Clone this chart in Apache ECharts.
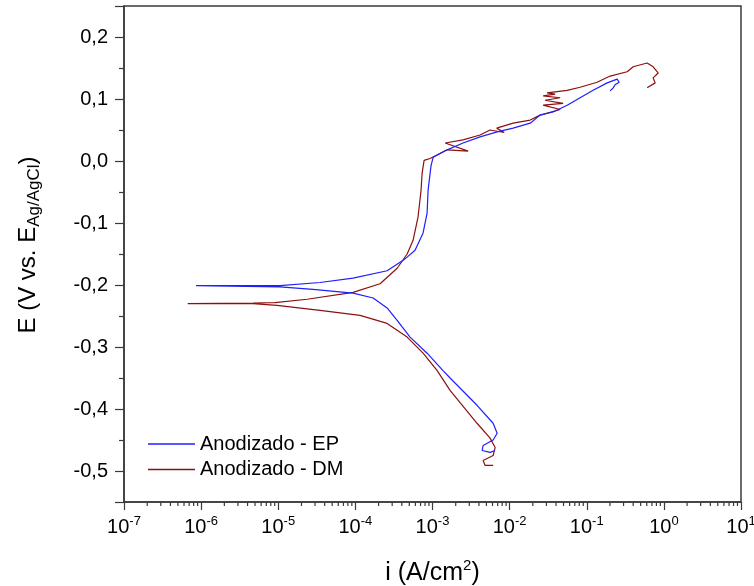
<!DOCTYPE html>
<html>
<head>
<meta charset="utf-8">
<script src="https://cdn.jsdelivr.net/npm/echarts@6/dist/echarts.min.js"></script>
<style>
html,body{margin:0;padding:0;background:#fff;}
#chart{width:754px;height:586px;}
</style>
</head>
<body>
<div id="chart"></div>
<script>
// Anodizado - EP : current density (A/cm2) and potential (V vs Ag/AgCl), sweep order
const epCurrent = [6.49e-3, 5.58e-3, 4.40e-3, 4.53e-3, 6.11e-3, 6.89e-3, 6.11e-3, 3.78e-3, 1.69e-3, 1.37e-3,
  8.51e-4, 5.12e-4, 3.48e-4, 2.58e-4, 1.70e-4, 9.33e-5, 2.82e-5, 1.05e-5, 8.6e-7,
  1.05e-5, 3.48e-5, 9.33e-5, 2.58e-4, 4.16e-4, 4.69e-4, 5.94e-4, 7.55e-4, 8.51e-4, 8.77e-4,
  9.31e-4, 9.59e-4, 1.02e-3, 1.55e-3, 2.49e-3, 4.14e-3, 6.89e-3, 1.11e-2, 1.85e-2, 2.48e-2,
  3.66e-2, 5.57e-2, 8.20e-2, 0.121, 0.184, 0.248, 0.263, 0.233, 0.220, 0.201];
const epPotential = [-0.467, -0.470, -0.467, -0.459, -0.450, -0.439, -0.423, -0.394, -0.350, -0.338,
  -0.310, -0.284, -0.257, -0.237, -0.221, -0.213, -0.207, -0.203, -0.201,
  -0.201, -0.196, -0.189, -0.177, -0.160, -0.155, -0.144, -0.116, -0.084, -0.047,
  -0.020, -0.007, 0.006, 0.018, 0.029, 0.039, 0.047, 0.053, 0.061, 0.074,
  0.079, 0.090, 0.102, 0.114, 0.126, 0.132, 0.127, 0.123, 0.118, 0.113];

// Anodizado - DM
const dmCurrent = [6.11e-3, 4.81e-3, 4.53e-3, 6.11e-3, 6.49e-3, 5.58e-3, 3.78e-3, 1.69e-3, 1.15e-3, 7.55e-4,
  4.69e-4, 2.58e-4, 1.15e-4, 3.48e-5, 9.64e-6, 4.71e-6, 6.7e-7,
  4.71e-6, 9.08e-6, 2.37e-5, 9.33e-5, 2.09e-4, 3.48e-4, 4.69e-4, 5.60e-4, 6.50e-4, 7.11e-4,
  7.33e-4, 7.78e-4, 9.31e-4, 1.55e-3, 2.9e-3, 1.46e-3, 2.49e-3, 4.14e-3, 5.58e-3, 8.5e-3,
  6.8e-3, 1.11e-2, 1.85e-2, 2.48e-2, 4.52e-2, 2.72e-2, 4.94e-2, 2.88e-2, 4.52e-2, 2.72e-2, 3.89e-2,
  3.06e-2, 5.57e-2, 8.20e-2, 0.136, 0.201, 0.334, 0.400, 0.607, 0.726, 0.843, 0.726, 0.771, 0.607];
const dmPotential = [-0.491, -0.491, -0.483, -0.475, -0.462, -0.447, -0.423, -0.370, -0.338, -0.310,
  -0.284, -0.262, -0.249, -0.241, -0.233, -0.230, -0.230,
  -0.229, -0.2285, -0.223, -0.212, -0.198, -0.173, -0.150, -0.128, -0.090, -0.047,
  -0.020, 0.001, 0.004, 0.018, 0.016, 0.029, 0.034, 0.042, 0.050, 0.046,
  0.053, 0.061, 0.066, 0.074, 0.083, 0.090, 0.093, 0.098, 0.102, 0.105, 0.108,
  0.110, 0.114, 0.119, 0.127, 0.137, 0.144, 0.152, 0.158, 0.152, 0.142, 0.134, 0.126, 0.118];

const seriesNames = ['Anodizado - EP', 'Anodizado - DM'];
const seriesColors = ['#1f1fff', '#8b1010'];

// axis settings
const xMin = 1e-7, xMax = 10;
const yMin = -0.55, yMax = 0.25;
const decades = [-7, -6, -5, -4, -3, -2, -1, 0];
const minorMultipliers = [2, 3, 4, 5, 6, 7, 8, 9];

const minorTickValues = [];
decades.forEach(function (d) {
  minorMultipliers.forEach(function (m) { minorTickValues.push([m * Math.pow(10, d), yMin]); });
});

function pairs(xs, ys) { return xs.map(function (x, i) { return [x, ys[i]]; }); }

const FONT = 'Liberation Sans, Arial, sans-serif';
const AXIS_COLOR = '#3a3a3a';

const chart = echarts.init(document.getElementById('chart'), null, { renderer: 'canvas' });
chart.setOption({
  backgroundColor: '#ffffff',
  animation: false,
  grid: {
    left: 124, right: 13, top: 6, bottom: 84,
    containLabel: false, outerBoundsMode: 'none',
    show: true, borderColor: AXIS_COLOR, borderWidth: 1.5, backgroundColor: 'transparent'
  },
  legend: {
    data: seriesNames,
    orient: 'vertical',
    left: 148, top: 434, padding: 0,
    icon: 'rect',
    itemWidth: 47, itemHeight: 1.5, itemGap: 5.6,
    textStyle: { fontFamily: FONT, fontSize: 20, color: '#000', lineHeight: 20, padding: [0, 0, 0, 0] },
    selectedMode: false
  },
  xAxis: {
    type: 'log', logBase: 10, min: xMin, max: xMax, splitNumber: 8,
    name: '{a|i (A/cm}{s|2}{a|)}',
    nameLocation: 'middle', nameGap: 56,
    nameTextStyle: {
      rich: {
        a: { fontFamily: FONT, fontSize: 25, color: '#000', lineHeight: 30 },
        s: { fontFamily: FONT, fontSize: 15, color: '#000', lineHeight: 30, padding: [0, 0, 14, 0] }
      }
    },
    axisLine: { show: true, onZero: false, lineStyle: { color: AXIS_COLOR, width: 1.5 } },
    axisTick: { show: true, inside: false, length: 8, lineStyle: { color: AXIS_COLOR, width: 1.2 } },
    minorTick: { show: false },
    splitLine: { show: false },
    axisLabel: {
      margin: 13,
      formatter: function (v) {
        const e = Math.round(Math.log10(v));
        return '{b|10}{s|' + e + '}';
      },
      rich: {
        b: { fontFamily: FONT, fontSize: 20, color: '#000', lineHeight: 24 },
        s: { fontFamily: FONT, fontSize: 13, color: '#000', lineHeight: 24, padding: [0, 0, 11, 0] }
      }
    }
  },
  yAxis: {
    type: 'value', min: yMin, max: yMax, splitNumber: 8,
    name: '{a|E (V vs. E}{s|Ag/AgCl}{a|)}',
    nameLocation: 'middle', nameGap: 80, nameRotate: 90,
    nameTextStyle: {
      padding: [0, 0, 0, 18],
      rich: {
        a: { fontFamily: FONT, fontSize: 24, color: '#000', lineHeight: 32 },
        s: { fontFamily: FONT, fontSize: 17, color: '#000', lineHeight: 32, padding: [12, 0, 0, 0] }
      }
    },
    axisLine: { show: true, lineStyle: { color: AXIS_COLOR, width: 1.5 } },
    axisTick: { show: true, inside: false, length: 9, lineStyle: { color: AXIS_COLOR, width: 1.2 } },
    minorTick: { show: true, splitNumber: 2, length: 5, lineStyle: { color: AXIS_COLOR, width: 1.2 } },
    splitLine: { show: false },
    axisLabel: {
      margin: 16,
      fontFamily: FONT, fontSize: 20, color: '#000',
      formatter: function (v) {
        const t = Math.round(v * 10);
        if (Math.abs(v * 10 - t) > 1e-6) return '';
        const s = (t / 10).toFixed(1).replace('.', ',');
        return s === '-0,0' ? '0,0' : s;
      }
    }
  },
  series: [
    {
      name: seriesNames[0], type: 'line', data: pairs(epCurrent, epPotential),
      symbol: 'none', showSymbol: false, smooth: false,
      lineStyle: { color: seriesColors[0], width: 1.2 }, itemStyle: { color: seriesColors[0] },
      z: 3
    },
    {
      name: seriesNames[1], type: 'line', data: pairs(dmCurrent, dmPotential),
      symbol: 'none', showSymbol: false, smooth: false,
      lineStyle: { color: seriesColors[1], width: 1.2 }, itemStyle: { color: seriesColors[1] },
      z: 2
    },
    {
      name: 'minorTicks', type: 'custom', data: minorTickValues, clip: false, silent: true,
      renderItem: function (params, api) {
        const p = api.coord([api.value(0), api.value(1)]);
        return {
          type: 'line',
          shape: { x1: p[0], y1: p[1], x2: p[0], y2: p[1] + 4 },
          style: { stroke: AXIS_COLOR, lineWidth: 1.2 }
        };
      },
      z: 1
    }
  ]
});
</script>
</body>
</html>
